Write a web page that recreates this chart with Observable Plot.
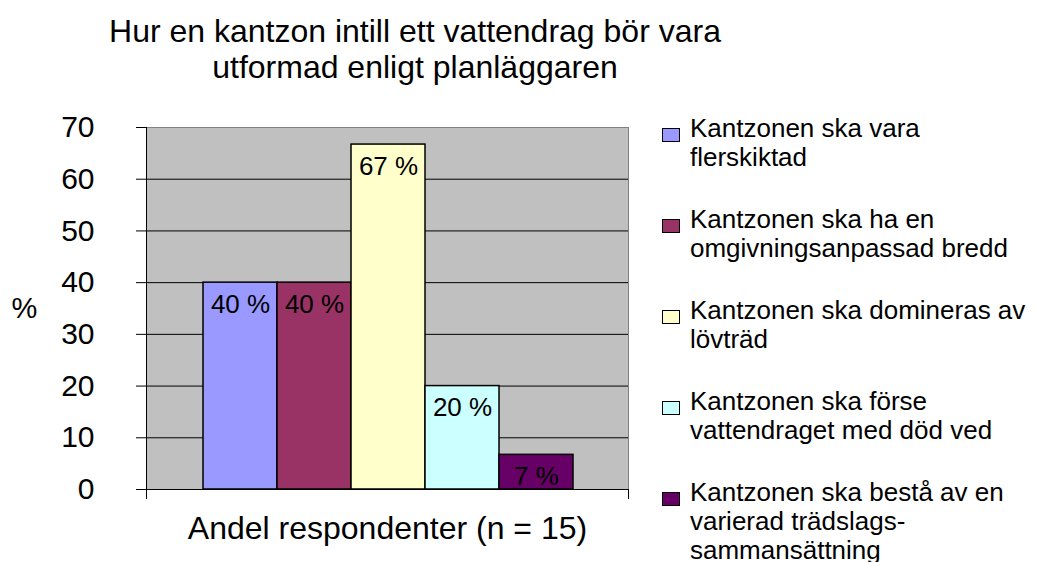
<!DOCTYPE html>
<html><head><meta charset="utf-8">
<script src="https://cdn.jsdelivr.net/npm/d3@7"></script>
<script src="https://cdn.jsdelivr.net/npm/@observablehq/plot@0.6"></script>
<style>
body{margin:0;background:#fff;font-family:"Liberation Sans",Arial,sans-serif;color:#000;}
#wrap{position:relative;width:1037px;height:562px;overflow:hidden;background:#fff;}
#title{position:absolute;left:0;top:13px;width:830px;text-align:center;font-size:32px;line-height:36px;}
#chart{position:absolute;left:0;top:100px;}
#legend{position:absolute;left:662px;top:114px;display:flex;flex-direction:column;gap:33px;}
.item{display:flex;align-items:flex-start;}
.sw{width:16px;height:12px;border:1.5px solid #000;margin-top:14px;margin-right:10px;flex:none;}
.lab{font-size:26px;line-height:29px;white-space:pre;}
</style></head><body>
<div id="wrap"><div id="title"></div><div id="chart"></div><div id="legend"></div></div>
<script>
const titleLines = ["Hur en kantzon intill ett vattendrag bör vara", "utformad enligt planläggaren"];
const categories = [
  "Kantzonen ska vara\nflerskiktad",
  "Kantzonen ska ha en\nomgivningsanpassad bredd",
  "Kantzonen ska domineras av\nlövträd",
  "Kantzonen ska förse\nvattendraget med död ved",
  "Kantzonen ska bestå av en\nvarierad trädslags-\nsammansättning"
];
const values = [40, 40, 66.7, 20, 6.7];
const valueLabels = ["40 %", "40 %", "67 %", "20 %", "7 %"];
const colors = ["#9999FF", "#993366", "#FFFFCC", "#CCFFFF", "#660066"];
const yTicks = [0, 10, 20, 30, 40, 50, 60, 70];
const gridTicks = [10, 20, 30, 40, 50, 60];
const xTitle = "Andel respondenter (n = 15)";
const yTitle = "%";

document.getElementById("title").innerHTML = titleLines.join("<br>");

const data = categories.map((c, i) => ({cat: c, value: values[i], label: valueLabels[i]}));

const chart = Plot.plot({
  width: 650, height: 462,
  marginTop: 27, marginBottom: 73, marginLeft: 146, marginRight: 22,
  style: {fontFamily: '"Liberation Sans", Arial, sans-serif', color: "#000", background: "transparent"},
  x: {domain: categories, padding: 0, insetLeft: 56, insetRight: 55, axis: null},
  y: {domain: [0, 70]},
  color: {domain: categories, range: colors},
  marks: [
    Plot.frame({fill: "#C0C0C0", stroke: "#808080"}),
    Plot.gridY(gridTicks, {stroke: "#000", strokeOpacity: 1}),
    Plot.frame({anchor: "right", stroke: "#000", insetBottom: -9}),
    Plot.frame({anchor: "right", stroke: "#808080"}),
    Plot.barY(data, {x: "cat", y: "value", fill: "cat", stroke: "#000", strokeWidth: 1.5}),
    Plot.axisY({ticks: yTicks, tickSize: 10, tickPadding: 42, fontSize: 30, label: null}),
    Plot.frame({anchor: "left", stroke: "#000", insetBottom: -9}),
    Plot.frame({anchor: "bottom", stroke: "#000"}),
    Plot.text(data, {x: "cat", y: "value", text: "label", dy: 22, fontSize: 26, fill: "#000"}),
    Plot.text([xTitle], {frameAnchor: "bottom", lineAnchor: "middle", dy: 39, fontSize: 32, fill: "#000"}),
    Plot.text([yTitle], {frameAnchor: "left", textAnchor: "middle", lineAnchor: "middle", dx: -122, fontSize: 29, fill: "#000"})
  ]
});
document.getElementById("chart").appendChild(chart);

const legend = d3.select("#legend");
categories.forEach((c, i) => {
  const item = legend.append("div").attr("class", "item");
  item.append("div").attr("class", "sw").style("background", colors[i]);
  item.append("div").attr("class", "lab").text(c);
});
</script>
</body></html>
